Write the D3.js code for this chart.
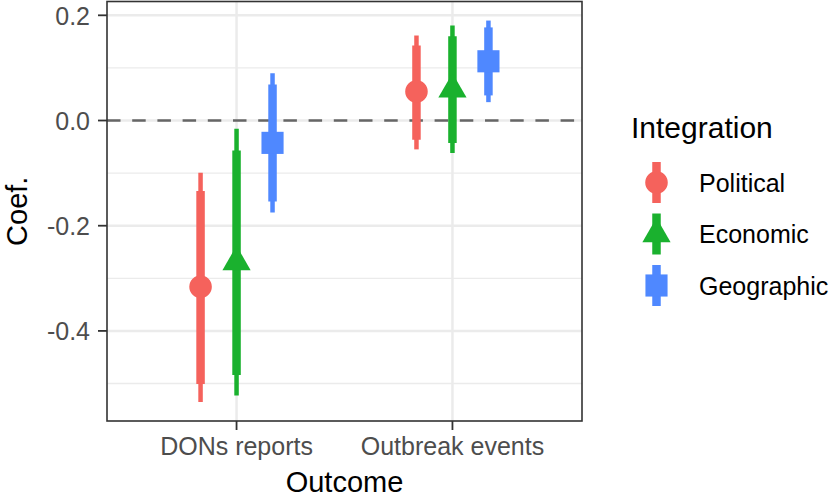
<!DOCTYPE html>
<html>
<head>
<meta charset="utf-8">
<script src="https://cdn.jsdelivr.net/npm/d3@7"></script>
<style>
  body { margin: 0; background: #fff; }
  text { font-family: "Liberation Sans", Arial, Helvetica, sans-serif; }
</style>
</head>
<body>
<div id="chart"></div>
<script>
var w = 833;
var h = 497;

// outcomes on the x axis, integration types as dodged groups
var outcomes = ['DONs reports', 'Outbreak events'];
var groups = ['Political', 'Economic', 'Geographic'];
var groupColors = ['#F5625C', '#1AB12E', '#4F88FF'];
var groupShapes = [d3.symbolCircle, d3.symbolTriangle, d3.symbolSquare];

// rows = groups, columns = outcomes
var estimate = [[-0.316, 0.055], [-0.269, 0.059], [-0.0425, 0.1126]];
var lower95 = [[-0.535, -0.0549], [-0.523, -0.0619], [-0.175, 0.0349]];
var upper95 = [[-0.0991, 0.1616], [-0.0156, 0.1806], [0.090, 0.190]];
var lower90 = [[-0.501, -0.0365], [-0.484, -0.0429], [-0.154, 0.0477]];
var upper90 = [[-0.134, 0.1426], [-0.0568, 0.160], [0.0685, 0.177]];

var yTicks = [-0.4, -0.2, 0.0, 0.2];
var yMinor = [-0.5, -0.3, -0.1, 0.1];

// panel box
var pL = 107, pR = 582, pT = 1.5, pB = 421;

var rows = [];
groups.forEach(function(g, gi) {
  outcomes.forEach(function(o, oi) {
    rows.push({
      group: g, gi: gi, outcome: o,
      est: estimate[gi][oi],
      lo95: lower95[gi][oi], hi95: upper95[gi][oi],
      lo90: lower90[gi][oi], hi90: upper90[gi][oi]
    });
  });
});

var svg = d3.select('#chart')
  .append('svg')
    .attr('width', w)
    .attr('height', h)
    .style('background', '#ffffff');

var x = d3.scalePoint()
  .domain(outcomes)
  .range([pL, pR])
  .padding(0.6);

var dodge = d3.scalePoint()
  .domain(groups)
  .range([-x.step() / 6, x.step() / 6]);

// ggplot style 5% expansion of the data range
var lo = d3.min(rows, function(d) { return d.lo95; });
var hi = d3.max(rows, function(d) { return d.hi95; });
var pad = (hi - lo) * 0.05;
var y = d3.scaleLinear()
  .domain([lo - pad, hi + pad])
  .range([pB, pT]);

var color = d3.scaleOrdinal().domain(groups).range(groupColors);
var shape = d3.scaleOrdinal().domain(groups).range(groupShapes);
var shapeSize = { 'Political': 400, 'Economic': 345, 'Geographic': 490 };

var panel = svg.append('g');

// grid
panel.selectAll('.minor')
  .data(yMinor)
  .enter()
  .append('line')
    .attr('x1', pL).attr('x2', pR)
    .attr('y1', function(d) { return y(d); })
    .attr('y2', function(d) { return y(d); })
    .style('stroke', '#EBEBEB')
    .style('stroke-width', 1.3);

panel.selectAll('.major-y')
  .data(yTicks)
  .enter()
  .append('line')
    .attr('x1', pL).attr('x2', pR)
    .attr('y1', function(d) { return y(d); })
    .attr('y2', function(d) { return y(d); })
    .style('stroke', '#EBEBEB')
    .style('stroke-width', 2.5);

panel.selectAll('.major-x')
  .data(outcomes)
  .enter()
  .append('line')
    .attr('x1', function(d) { return x(d); })
    .attr('x2', function(d) { return x(d); })
    .attr('y1', pT).attr('y2', pB)
    .style('stroke', '#EBEBEB')
    .style('stroke-width', 2.5);

// zero reference line
panel.append('line')
  .attr('x1', pL).attr('x2', pR)
  .attr('y1', y(0)).attr('y2', y(0))
  .style('stroke', '#666666')
  .style('stroke-width', 2.6)
  .style('stroke-dasharray', '13.5,11.7');

var marks = panel.selectAll('.mark')
  .data(rows)
  .enter()
  .append('g')
    .attr('transform', function(d) {
      return 'translate(' + (x(d.outcome) + dodge(d.group)) + ',0)';
    });

marks.append('line')
  .attr('y1', function(d) { return y(d.lo95); })
  .attr('y2', function(d) { return y(d.hi95); })
  .style('stroke', function(d) { return color(d.group); })
  .style('stroke-width', 4.5);

marks.append('line')
  .attr('y1', function(d) { return y(d.lo90); })
  .attr('y2', function(d) { return y(d.hi90); })
  .style('stroke', function(d) { return color(d.group); })
  .style('stroke-width', 8.5);

marks.append('path')
  .attr('transform', function(d) { return 'translate(0,' + y(d.est) + ')'; })
  .attr('d', function(d) {
    return d3.symbol().type(shape(d.group)).size(shapeSize[d.group])();
  })
  .style('fill', function(d) { return color(d.group); });

// panel border
svg.append('rect')
  .attr('x', pL).attr('y', pT)
  .attr('width', pR - pL).attr('height', pB - pT)
  .style('fill', 'none')
  .style('stroke', '#333333')
  .style('stroke-width', 1.6);

// y axis, with a plain hyphen for the minus sign
var fmt = function(d) { return d3.format('.1f')(d).replace('\u2212', '-'); };
var yAxis = svg.append('g');
yAxis.selectAll('.tick')
  .data(yTicks)
  .enter()
  .append('line')
    .attr('x1', pL - 9).attr('x2', pL)
    .attr('y1', function(d) { return y(d); })
    .attr('y2', function(d) { return y(d); })
    .style('stroke', '#333333')
    .style('stroke-width', 1.8);
yAxis.selectAll('.lab')
  .data(yTicks)
  .enter()
  .append('text')
    .attr('x', 90)
    .attr('y', function(d) { return y(d) + 9.5; })
    .attr('text-anchor', 'end')
    .style('font-size', '25px')
    .style('fill', '#4D4D4D')
    .text(fmt);

// x axis
var xAxis = svg.append('g');
xAxis.selectAll('.tick')
  .data(outcomes)
  .enter()
  .append('line')
    .attr('x1', function(d) { return x(d); })
    .attr('x2', function(d) { return x(d); })
    .attr('y1', pB).attr('y2', pB + 9)
    .style('stroke', '#333333')
    .style('stroke-width', 1.8);
xAxis.selectAll('.lab')
  .data(outcomes)
  .enter()
  .append('text')
    .attr('x', function(d) { return x(d); })
    .attr('y', 455)
    .attr('text-anchor', 'middle')
    .style('font-size', '25px')
    .style('fill', '#4D4D4D')
    .text(function(d) { return d; });

// axis titles
svg.append('text')
  .attr('x', (pL + pR) / 2)
  .attr('y', 492)
  .attr('text-anchor', 'middle')
  .style('font-size', '29px')
  .style('fill', '#000')
  .text('Outcome');

svg.append('text')
  .attr('transform', 'translate(27,' + ((pT + pB) / 2) + ') rotate(-90)')
  .attr('text-anchor', 'middle')
  .style('font-size', '29px')
  .style('fill', '#000')
  .text('Coef.');

// legend
var legend = svg.append('g');
legend.append('text')
  .attr('x', 631)
  .attr('y', 138)
  .style('font-size', '30px')
  .style('fill', '#000')
  .text('Integration');

var keys = legend.selectAll('.key')
  .data(groups)
  .enter()
  .append('g')
    .attr('transform', function(d, i) { return 'translate(656.5,' + (182.5 + i * 51.5) + ')'; });

keys.append('line')
  .attr('y1', -20.5).attr('y2', 20.5)
  .style('stroke', function(d) { return color(d); })
  .style('stroke-width', 8.5);

keys.append('path')
  .attr('d', function(d) { return d3.symbol().type(shape(d)).size(shapeSize[d])(); })
  .style('fill', function(d) { return color(d); });

keys.append('text')
  .attr('x', 42.5)
  .attr('y', 9)
  .style('font-size', '25px')
  .style('fill', '#000')
  .text(function(d) { return d; });
</script>
</body>
</html>
